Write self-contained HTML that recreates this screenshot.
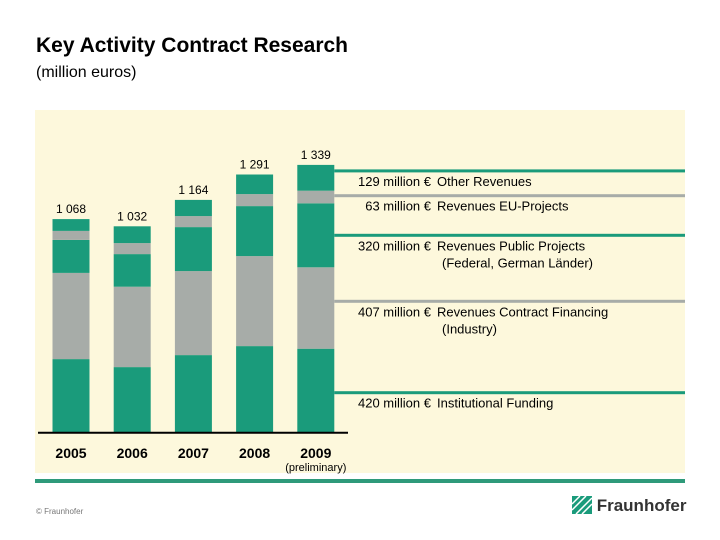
<!DOCTYPE html>
<html><head><meta charset="utf-8"><style>
body{margin:0;width:720px;height:540px;background:#fff;font-family:"Liberation Sans",sans-serif;position:relative;overflow:hidden}
.t{position:absolute;white-space:nowrap}
</style></head><body>
<div class="t" style="left:36px;top:34px;font-size:21px;font-weight:bold;color:#000">Key Activity Contract Research</div>
<div class="t" style="left:36px;top:64px;font-size:16px;color:#000">(million euros)</div>
<div style="position:absolute;left:35px;top:110px;width:650px;height:363px;background:#fdf8dc"></div>
<div style="position:absolute;left:35px;top:479px;width:650px;height:4px;background:#2e9a7a"></div>
<div class="t" style="left:36px;top:507px;font-size:8px;color:#777">© Fraunhofer</div>
<div class="t" style="left:572px;top:496px;font-size:17px;font-weight:bold;color:#333">
<svg width="20" height="18" style="vertical-align:-3px"><rect width="20" height="18" fill="#1a9b7b"/><path d="M0 14L14 0M4 18L20 2M10 18L20 8M0 8L8 0" stroke="#fff" stroke-width="1.5"/></svg> Fraunhofer</div>
<svg id="chart" width="720" height="540" style="position:absolute;left:0;top:0"></svg>
<script>
const years=["2005","2006","2007","2008","2009"];
const totals=["1 068","1 032","1 164","1 291","1 339"];
const institutional=[368,328,388,433,420];
const contract=[431,402,420,450,407];
const publicP=[165,163,220,250,320];
const euP=[45,55,55,60,63];
const other=[59,84,81,98,129];
const legendValues=["129 million €","63 million €","320 million €","407 million €","420 million €"];
const legendNames=[["Other Revenues"],["Revenues EU-Projects"],["Revenues Public Projects","(Federal, German Länder)"],["Revenues Contract Financing","(Industry)"],["Institutional Funding"]];
const NS="http://www.w3.org/2000/svg";
const svg=document.getElementById('chart');
const base=432.7,k=0.2,x0=52.5,step=61.2,bw=37;
const y=v=>base-v*k;
const xb=i=>x0+i*step;
const G="#1a9b7b",Gr="#a7aca8";
const series=[[institutional,G,'institutional'],[contract,Gr,'contract'],[publicP,G,'public'],[euP,Gr,'eu'],[other,G,'other']];
function mk(tag,at){const e=document.createElementNS(NS,tag);for(const a in at)e.setAttribute(a,at[a]);svg.appendChild(e);return e;}
years.forEach((yr,i)=>{let cum=0;
 series.forEach(s=>{const v=s[0][i];const r=mk('rect',{x:xb(i),y:y(cum+v),width:bw,height:v*k,fill:s[1]});
  
  cum+=v;});
 const t=mk('text',{x:xb(i)+bw/2,y:y(cum)-6,'font-size':12,'text-anchor':'middle',fill:'#000','font-family':'Liberation Sans'});t.textContent=totals[i];
 
 
 const l=mk('text',{x:xb(i)+bw/2,y:458,'font-size':14,'font-weight':'bold','text-anchor':'middle',fill:'#000','font-family':'Liberation Sans'});l.textContent=yr;
 
 
});
const pt=mk('text',{x:xb(4)+bw/2,y:471,'font-size':11,'text-anchor':'middle',fill:'#000','font-family':'Liberation Sans'});pt.textContent='(preliminary)';


const ax=mk('line',{x1:38,x2:348,y1:base,y2:base,stroke:'#000','stroke-width':2});


const last=4;let c=0;const tops=[];
series.forEach(s=>{tops.push(y(c+s[0][last]));c+=s[0][last];});
const lineY=[tops[4]+6,tops[3]+5,tops[2]+32,tops[1]+34,tops[0]+44];
const lineCol=[G,Gr,G,Gr,G];
for(let j=0;j<5;j++){
 const ln=mk('rect',{x:xb(last)+bw,y:lineY[j]-1.5,width:685-xb(last)-bw,height:3,fill:lineCol[j]});
 
 
 const ty=lineY[j]+15;
 const tv=mk('text',{x:431,y:ty,'font-size':13,'text-anchor':'end',fill:'#000','font-family':'Liberation Sans'});tv.textContent=legendValues[j];
 
 
 legendNames[j].forEach((n,m)=>{const tn=mk('text',{x:437+(m?5:0),y:ty+m*17,'font-size':13,fill:'#000','font-family':'Liberation Sans'});tn.textContent=n;
  
  });
}
</script>
</body></html>
